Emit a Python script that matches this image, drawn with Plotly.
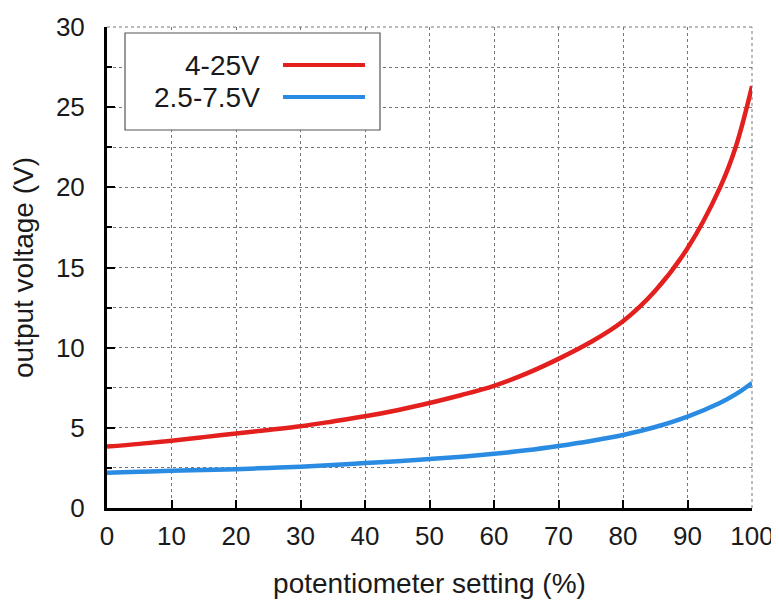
import plotly.graph_objects as go

setting = [0, 5, 10, 15, 20, 25, 30, 35, 40, 45, 50, 55, 60, 65, 70, 75, 80, 85, 90, 95, 97.5, 100]
v_4_25 = [3.83, 4.0, 4.2, 4.42, 4.65, 4.87, 5.1, 5.4, 5.72, 6.1, 6.55, 7.05, 7.62, 8.38, 9.3, 10.35, 11.65, 13.55, 16.2, 19.95, 22.55, 26.3]
v_25_75 = [2.2, 2.26, 2.32, 2.37, 2.42, 2.5, 2.58, 2.68, 2.8, 2.92, 3.06, 3.2, 3.38, 3.6, 3.87, 4.18, 4.55, 5.05, 5.7, 6.55, 7.1, 7.8]
names = ["4-25V", "2.5-7.5V"]
colors = ["#e3201e", "#2a8be3"]
x_ticks = list(range(0, 101, 10))
y_ticks = list(range(0, 31, 5))

FONT = "Liberation Sans, Arial, sans-serif"
TXT = "#1a1a1a"

fig = go.Figure()
for ys, name, col in zip([v_4_25, v_25_75], names, colors):
    fig.add_trace(go.Scatter(x=setting, y=ys, mode="lines", name=name,
                             line=dict(color=col, width=4.5, shape="spline", smoothing=1.0),
                             showlegend=False))

OFF = 8  # page body margin
W, H = 779 - OFF, 604 - OFF
L, R, T, B = 107 - OFF, 27, 27 - OFF, 96
pw, ph = W - L - R, H - T - B

def px(xp):
    return (xp - OFF - L) / pw

def py(yp):
    return 1 - (yp - OFF - T) / ph

# dotted frame on top and right (grid at range ends)
shapes = [
    dict(type="line", xref="paper", yref="paper", x0=0, x1=1, y0=1, y1=1,
         line=dict(color="#777", width=1, dash="dot"), layer="below"),
    dict(type="line", xref="paper", yref="paper", x0=1, x1=1, y0=0, y1=1,
         line=dict(color="#777", width=1, dash="dot"), layer="below"),
]
# custom legend (text on left, line sample on right)
shapes.append(dict(type="rect", xref="paper", yref="paper",
                   x0=px(125), x1=px(380), y0=py(130), y1=py(33),
                   line=dict(color="#555", width=1.2), fillcolor="white", layer="above"))
annotations = []
for i, (name, col) in enumerate(zip(names, colors)):
    yc = [65, 97][i]
    shapes.append(dict(type="line", xref="paper", yref="paper",
                       x0=px(283), x1=px(365), y0=py(yc), y1=py(yc),
                       line=dict(color=col, width=4), layer="above"))
    annotations.append(dict(xref="paper", yref="paper", x=px(262), y=py(yc),
                            xanchor="right", yanchor="middle", text=name, showarrow=False,
                            font=dict(family=FONT, size=28, color=TXT)))

grid = dict(showgrid=True, gridcolor="#777", griddash="dot", gridwidth=1)
fig.update_layout(
    width=W, height=H,
    margin=dict(l=L, r=R, t=T, b=B),
    plot_bgcolor="white", paper_bgcolor="white",
    font=dict(family=FONT, size=26, color=TXT),
    shapes=shapes, annotations=annotations,
    xaxis=dict(range=[0, 100], tickvals=x_ticks, ticks="inside", ticklen=8, tickwidth=2,
               tickcolor="black", showline=True, linecolor="black", linewidth=3,
               zeroline=False, ticklabelstandoff=3, automargin=False,
               tickfont=dict(size=26),
               title=dict(text="potentiometer setting (%)", standoff=24,
                          font=dict(size=28)), **grid),
    yaxis=dict(range=[0, 30], tickvals=y_ticks, ticks="inside", ticklen=8, tickwidth=2,
               tickcolor="black", showline=True, linecolor="black", linewidth=3,
               zeroline=False, ticklabelstandoff=14, automargin=False,
               tickfont=dict(size=26),
               minor=dict(dtick=2.5, ticks="inside", ticklen=5, tickwidth=2, tickcolor="black",
                          showgrid=True, gridcolor="#777", griddash="dot", gridwidth=1),
               title=dict(text="output voltage (V)", standoff=19, font=dict(size=28)), **grid),
)
fig.write_html("out.html")
